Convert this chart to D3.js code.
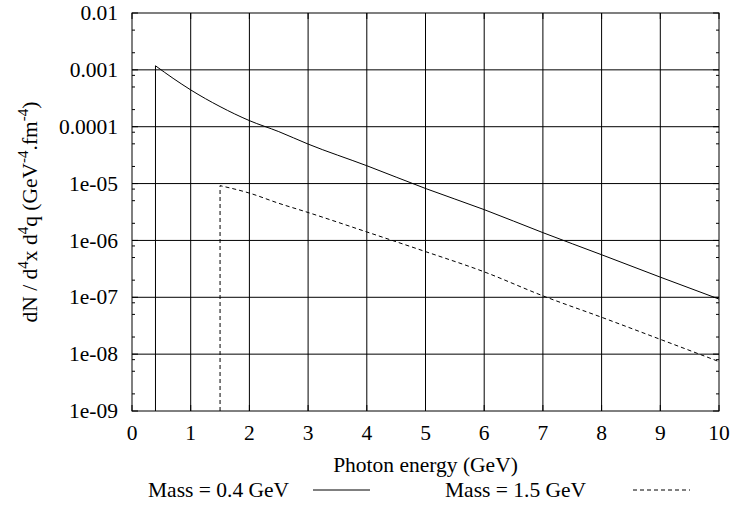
<!DOCTYPE html>
<html><head><meta charset="utf-8">
<script src="https://cdn.jsdelivr.net/npm/d3@7/dist/d3.min.js"></script>
<style>body{margin:0;background:#fff}text{font-family:"Liberation Serif","Times New Roman",serif;fill:#000}</style>
</head><body>
<svg id="c" width="731" height="516"></svg>
<script>
const xTicks = [0,1,2,3,4,5,6,7,8,9,10];
const yTicks = [1e-9,1e-8,1e-7,1e-6,1e-5,1e-4,1e-3,1e-2];
const yTickLabels = ["1e-09","1e-08","1e-07","1e-06","1e-05","0.0001","0.001","0.01"];
const seriesNames = ["Mass = 0.4 GeV","Mass = 1.5 GeV"];
const lightE = [0.4,0.7,1,1.5,2,2.5,3,4,5,6,7,8,9,10];
const lightV = [1.18e-3,7.1e-4,4.44e-4,2.26e-4,1.28e-4,8.2e-5,4.95e-5,2.06e-5,8.2e-6,3.48e-6,1.37e-6,5.6e-7,2.26e-7,9.3e-8];
const heavyE = [1.5,2,2.5,3,4,5,6,7,8,9,10];
const heavyV = [9.2e-6,6.8e-6,4.5e-6,3.1e-6,1.41e-6,6.36e-7,2.8e-7,1.06e-7,4.45e-8,1.82e-8,7.4e-9];

const svg = d3.select("#c");
const L=132,R=719,T=13,B=411;
const x = d3.scaleLinear().domain([0,10]).range([L,R]);
const y = d3.scaleLog().domain([1e-9,1e-2]).range([B,T]);
const fs = 21.5;

// grid
const g = svg.append("g");
g.selectAll(".vg").data(xTicks.slice(1,-1)).enter().append("line")
  .attr("x1",d=>x(d)).attr("x2",d=>x(d)).attr("y1",T).attr("y2",B)
  .attr("stroke","#000").attr("stroke-width",1);
g.selectAll(".hg").data(yTicks.slice(1,-1)).enter().append("line")
  .attr("x1",L).attr("x2",R).attr("y1",d=>y(d)).attr("y2",d=>y(d))
  .attr("stroke","#000").attr("stroke-width",1);

// minor ticks
const minor=[];
for(let e=-9;e<=-3;e++){ [2,5,8].forEach(m=>{ const v=m*Math.pow(10,e); if(v<1e-2 && !(e===-3&&m===8)) minor.push(v);}); }
minor.forEach(v=>{
  svg.append("line").attr("x1",L).attr("x2",L+3).attr("y1",y(v)).attr("y2",y(v)).attr("stroke","#000");
  svg.append("line").attr("x1",R-3).attr("x2",R).attr("y1",y(v)).attr("y2",y(v)).attr("stroke","#000");
});
yTicks.forEach(v=>{
  svg.append("line").attr("x1",L).attr("x2",L+6).attr("y1",y(v)).attr("y2",y(v)).attr("stroke","#000");
  svg.append("line").attr("x1",R-6).attr("x2",R).attr("y1",y(v)).attr("y2",y(v)).attr("stroke","#000");
});
xTicks.forEach(v=>{
  svg.append("line").attr("x1",x(v)).attr("x2",x(v)).attr("y1",B).attr("y2",B-6).attr("stroke","#000");
  svg.append("line").attr("x1",x(v)).attr("x2",x(v)).attr("y1",T).attr("y2",T+6).attr("stroke","#000");
});

// border
svg.append("rect").attr("x",L).attr("y",T).attr("width",R-L).attr("height",B-T)
  .attr("fill","none").attr("stroke","#000").attr("stroke-width",1);

// tick labels
svg.selectAll(".yl").data(yTicks).enter().append("text")
  .attr("x",118).attr("y",d=>y(d)).attr("dy","0.33em").attr("text-anchor","end")
  .attr("font-size",fs).text((d,i)=>yTickLabels[i]);
svg.selectAll(".xl").data(xTicks).enter().append("text")
  .attr("x",d=>x(d)).attr("y",440).attr("text-anchor","middle")
  .attr("font-size",fs).text(d=>d);

// axis titles
svg.append("text").attr("x",(L+R)/2).attr("y",472).attr("text-anchor","middle")
  .attr("font-size",fs).text("Photon energy (GeV)");
const yt = svg.append("text").attr("transform","translate(37,212) rotate(-90)")
  .attr("text-anchor","middle").attr("font-size",fs);
const parts=[["dN / d",0],["4",1],["x d",0],["4",1],["q (GeV",0],["-4",1],[".fm",0],["-4",1],[")",0]];
let sup=false;
parts.forEach(([t,s])=>{
  const ts=yt.append("tspan").text(t);
  if(s){ ts.attr("font-size",15).attr("dy",sup?0:-9); sup=true; }
  else { ts.attr("dy",sup?9:0); sup=false; }
});

// lines
const line = d3.line().x(d=>x(d[0])).y(d=>y(d[1])).curve(d3.curveMonotoneX);
const vline = d3.line().x(d=>x(d[0])).y(d=>y(d[1]));
const lightPts = lightE.map((e,i)=>[e,lightV[i]]);
const heavyPts = heavyE.map((e,i)=>[e,heavyV[i]]);
const yMin = y.domain()[0];
svg.append("path").attr("d",vline([[lightE[0],yMin],lightPts[0]])).attr("fill","none").attr("stroke","#000");
svg.append("path").attr("d",line(lightPts)).attr("fill","none").attr("stroke","#000").attr("stroke-width",1);
svg.append("path").attr("d",vline([[heavyE[0],yMin],heavyPts[0]])+line(heavyPts).replace(/^M/,"L"))
  .attr("fill","none").attr("stroke","#000").attr("stroke-width",1).attr("stroke-dasharray","4,3");

// legend
svg.append("text").attr("x",148).attr("y",497).attr("font-size",fs).text(seriesNames[0]);
svg.append("line").attr("x1",313).attr("x2",370).attr("y1",490).attr("y2",490).attr("stroke","#000");
svg.append("text").attr("x",445).attr("y",497).attr("font-size",fs).text(seriesNames[1]);
svg.append("line").attr("x1",633).attr("x2",690).attr("y1",490).attr("y2",490).attr("stroke","#000").attr("stroke-dasharray","4,3");
</script>
</body></html>
